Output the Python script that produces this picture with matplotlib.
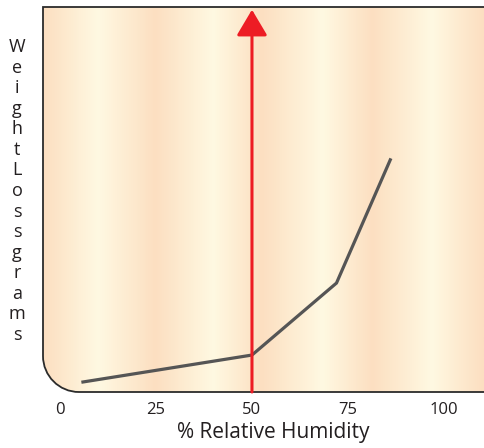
import numpy as np
import matplotlib.pyplot as plt
from matplotlib.path import Path
from matplotlib.patches import PathPatch
from matplotlib.colors import LinearSegmentedColormap

# data
humidity = [6, 50, 72, 86]
weight_loss = [2.6, 9.6, 28.3, 60.3]
threshold = 50
xticks = [0, 25, 50, 75, 100]
ylabel_text = "WeightLossgrams"

W, H = 484, 448
fig = plt.figure(figsize=(W / 100, H / 100), dpi=100)
plt.rcParams['font.family'] = ['Open Sans', 'DejaVu Sans']
txt_color = '#231f20'

# frame in pixel space (decoration layer)
left, top, bottom, right, r = 43, 7, 392, 486, 36
deco = fig.add_axes([0, 0, 1, 1])
deco.set_xlim(0, W)
deco.set_ylim(H, 0)
deco.axis('off')

k = 0.5523 * r
verts = [(right, top), (left, top), (left, bottom - r),
         (left, bottom - r + k), (left + r - k, bottom), (left + r, bottom),
         (right, bottom), (right, top)]
codes = [Path.MOVETO, Path.LINETO, Path.LINETO,
         Path.CURVE4, Path.CURVE4, Path.CURVE4,
         Path.LINETO, Path.CLOSEPOLY]
frame = Path(verts, codes)

peach, cream = '#fcdfc1', '#fff9e2'
stops = [43, 97, 155, 213, 262, 323, 373, 433, 484]
cols = [peach, cream] * 4 + [peach]
cmap = LinearSegmentedColormap.from_list(
    'bg', [((s - stops[0]) / (stops[-1] - stops[0]), c) for s, c in zip(stops, cols)])
grad = np.linspace(0, 1, 500)[None, :]
im = deco.imshow(grad, cmap=cmap, aspect='auto',
                 extent=(stops[0], stops[-1], bottom, top), zorder=0)
clip = PathPatch(frame, transform=deco.transData, facecolor='none', edgecolor='none')
deco.add_patch(clip)
im.set_clip_path(clip)

border = Path(verts[:7], codes[:7])
deco.add_patch(PathPatch(border, facecolor='none', edgecolor='#2b2b2b', lw=1.3, zorder=3))

# data axes
ax = fig.add_axes([left / W, (H - bottom) / H, (W - left) / W, (bottom - top) / H])
ax.patch.set_alpha(0)
for s in ax.spines.values():
    s.set_visible(False)
ax.set_xlim(-4.4, 110.4)
ax.set_ylim(0, 100)

ax.plot(humidity, weight_loss, color='#555555', lw=2.3, solid_joinstyle='miter', zorder=4)
ax.annotate('', xy=(threshold, 99.3), xytext=(threshold, 0),
            arrowprops=dict(arrowstyle='-|>,head_length=16,head_width=9.5',
                            mutation_scale=1, color='#ed1c24', lw=2.2,
                            shrinkA=0, shrinkB=0), zorder=5)

ax.set_xticks(xticks)
ax.set_xticklabels([str(t) for t in xticks])
ax.set_yticks([])
ax.tick_params(axis='x', length=0, pad=7, labelsize=12, labelcolor=txt_color)
ax.set_xlabel('% Relative Humidity', fontsize=15, color=txt_color)
ax.xaxis.set_label_coords((273 - left) / (W - left), -30 / (bottom - top))

# stacked y label
n = len(ylabel_text)
for i, ch in enumerate(ylabel_text):
    ypx = 47 + i * (335 - 47) / (n - 1)
    fig.text(17 / W, 1 - ypx / H, ch, ha='center', va='center',
             fontsize=13, color=txt_color)

fig.savefig('out.png', dpi=100)
